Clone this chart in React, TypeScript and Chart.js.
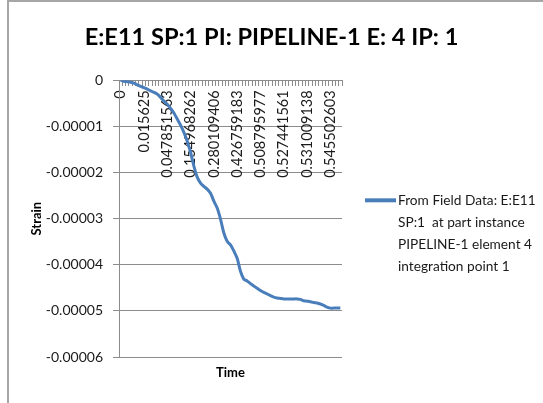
import React, { useEffect, useRef } from 'react';
import { Chart, registerables } from 'chart.js';

Chart.register(...registerables);

const titleText = 'E:E11 SP:1 PI: PIPELINE-1 E: 4 IP: 1';
const xTitle = 'Time';
const yTitle = 'Strain';
const seriesLabel = 'From Field Data: E:E11 SP:1  at part instance PIPELINE-1 element 4 integration point 1';
const legendLines = ['From Field Data: E:E11', 'SP:1  at part instance', 'PIPELINE-1 element 4', 'integration point 1'];

// visible time tick labels (every 7th category)
const timeLabels = [
  '0', '0.015625', '0.047851563', '0.154968262', '0.280109406',
  '0.426759183', '0.508795977', '0.527441561', '0.531009138', '0.545502603',
];
const labelEvery = 7;

// strain values, one per category
const strainValues = [
  0, -0.02e-5, -0.03e-5, -0.04e-5, -0.06e-5, -0.10e-5, -0.13e-5, -0.16e-5, -0.19e-5, -0.23e-5,
  -0.26e-5, -0.30e-5, -0.37e-5, -0.45e-5, -0.52e-5, -0.61e-5, -0.71e-5, -0.84e-5, -0.97e-5, -1.13e-5,
  -1.32e-5, -1.56e-5, -1.86e-5, -2.10e-5, -2.23e-5, -2.30e-5, -2.36e-5, -2.45e-5, -2.62e-5, -2.77e-5,
  -3.01e-5, -3.31e-5, -3.49e-5, -3.57e-5, -3.70e-5, -3.86e-5, -4.14e-5, -4.31e-5, -4.35e-5, -4.41e-5,
  -4.46e-5, -4.51e-5, -4.56e-5, -4.60e-5, -4.63e-5, -4.67e-5, -4.70e-5, -4.72e-5, -4.73e-5, -4.74e-5,
  -4.74e-5, -4.74e-5, -4.74e-5, -4.74e-5, -4.75e-5, -4.78e-5, -4.79e-5, -4.80e-5, -4.82e-5, -4.83e-5,
  -4.85e-5, -4.88e-5, -4.92e-5, -4.94e-5, -4.94e-5, -4.94e-5, -4.94e-5,
];

const categories = strainValues.map((_, i) => (i % labelEvery === 0 ? timeLabels[i / labelEvery] ?? '' : ''));

const yMin = -0.00006;
const yMax = 0;
const yStep = 0.00001;

const lineColor = '#4a7ebb';
const gridColor = '#8c8c8c';
const textColor = '#1a1a1a';
const FONT = 'Lato';

const framePlugin = {
  id: 'frame',
  beforeDraw(chart: any) {
    const { ctx, width, height } = chart;
    ctx.save();
    ctx.fillStyle = '#ffffff';
    ctx.fillRect(0, 0, width, height);
    ctx.fillStyle = '#a6a6a6';
    ctx.fillRect(7, 0, width - 7, 2);
    ctx.fillRect(7, 0, 2, height);
    ctx.restore();
  },
  afterDraw(chart: any) {
    const { ctx, chartArea } = chart;
    const ds = chart.data.datasets[0];
    const x0 = chartArea.right + 23;
    const y0 = chartArea.top + 120;
    ctx.save();
    ctx.strokeStyle = ds.borderColor;
    ctx.lineWidth = 4;
    ctx.beginPath();
    ctx.moveTo(x0, y0);
    ctx.lineTo(x0 + 31, y0);
    ctx.stroke();
    ctx.fillStyle = textColor;
    ctx.font = `13.7px ${FONT}`;
    ctx.textBaseline = 'middle';
    ctx.textAlign = 'left';
    legendLines.forEach((t, i) => ctx.fillText(t, x0 + 33, y0 + i * 22));
    ctx.restore();
  },
};

export default function App() {
  const ref = useRef<HTMLCanvasElement | null>(null);
  useEffect(() => {
    if (!ref.current) return;
    const chart = new Chart(ref.current, {
      type: 'line',
      data: {
        labels: categories,
        datasets: [
          {
            label: seriesLabel,
            data: strainValues,
            borderColor: lineColor,
            backgroundColor: lineColor,
            borderWidth: 3,
            pointRadius: 0,
            tension: 0.3,
            fill: false,
          },
        ],
      },
      options: {
        animation: false,
        responsive: false,
        maintainAspectRatio: false,
        layout: { padding: 0 },
        plugins: {
          legend: { display: false },
          tooltip: { enabled: false },
          title: {
            display: true,
            text: titleText,
            color: '#000',
            font: { family: FONT, size: 23.6, weight: 'bold' },
            padding: { top: 23, bottom: 29 },
          },
        },
        scales: {
          x: {
            type: 'category',
            position: { y: 0 } as any,
            offset: true,
            grid: {
              display: true,
              drawOnChartArea: false,
              drawTicks: true,
              tickLength: 5,
              offset: true,
              color: gridColor,
            },
            border: { display: true, color: gridColor, width: 1 },
            ticks: {
              autoSkip: false,
              minRotation: 90,
              maxRotation: 90,
              padding: 5,
              color: textColor,
              font: { family: FONT, size: 14.5 },
            },
          },
          x2: {
            type: 'linear',
            position: 'bottom',
            min: 0,
            max: 1,
            grid: { display: false, drawTicks: false },
            border: { display: false },
            ticks: { display: false },
            title: {
              display: true,
              text: xTitle,
              color: '#000',
              font: { family: FONT, size: 13, weight: 'bold' },
              padding: { top: 0, bottom: 22 },
            },
            afterFit(scale: any) {
              scale.height = 46;
            },
          },
          y: {
            type: 'linear',
            min: yMin,
            max: yMax,
            grid: { color: gridColor, tickLength: 6, lineWidth: 1 },
            border: { display: true, color: gridColor, width: 1 },
            ticks: {
              stepSize: yStep,
              padding: 10,
              color: textColor,
              font: { family: FONT, size: 14 },
              callback: (v: any) => (Number(v) === 0 ? '0' : Number(v).toFixed(5)),
            },
            title: {
              display: true,
              text: yTitle,
              color: '#000',
              font: { family: FONT, size: 13, weight: 'bold' },
              padding: { top: 29, bottom: 0 },
            },
            afterFit(scale: any) {
              scale.width = 119;
            },
          },
          y2: {
            type: 'linear',
            position: 'right',
            min: 0,
            max: 1,
            grid: { display: false, drawTicks: false },
            border: { display: false },
            ticks: { display: false },
            afterFit(scale: any) {
              scale.width = 201;
            },
          },
        },
      },
      plugins: [framePlugin],
    });
    return () => chart.destroy();
  }, []);
  return (
    <div style={{ position: 'absolute', left: 0, top: 0, width: 543, height: 403 }}>
      <canvas ref={ref} width={543} height={403} style={{ width: 543, height: 403, display: 'block' }} />
    </div>
  );
}
